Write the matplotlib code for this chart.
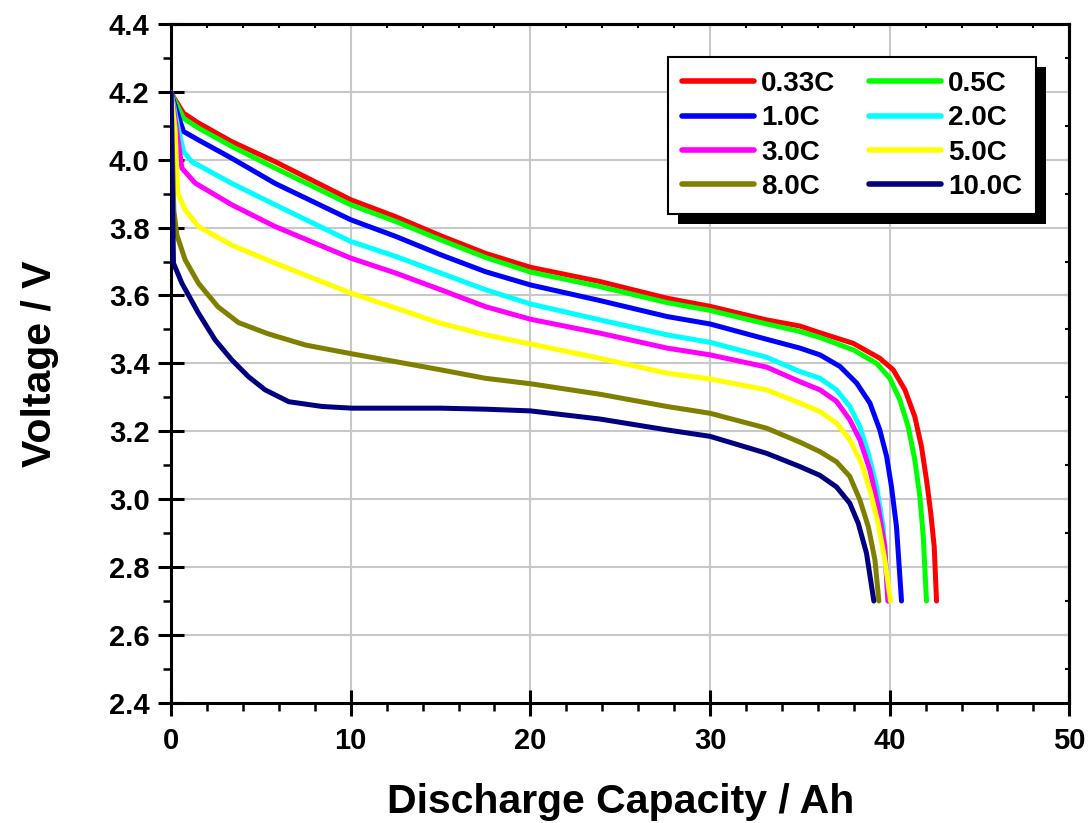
import matplotlib
matplotlib.use("Agg")
import matplotlib.pyplot as plt
from matplotlib.patches import Rectangle
from matplotlib.ticker import MultipleLocator, FormatStrFormatter

plt.rcParams["font.family"] = ["Liberation Sans", "DejaVu Sans"]
plt.rcParams["font.weight"] = "bold"

# discharge curves (capacity Ah, voltage V)
labels = ["0.33C", "0.5C", "1.0C", "2.0C", "3.0C", "5.0C", "8.0C", "10.0C"]
colors = ["#ff0000", "#00ff00", "#0000ff", "#00ffff",
          "#ff00ff", "#ffff00", "#808000", "#000080"]

q_033 = [0, 0.69, 1.52, 3.38, 5.79, 10, 12.5, 15, 17.5, 20, 23.87, 27.6, 30,
         33.15, 35, 36.12, 37.97, 39.45, 40.2, 40.85, 41.4, 41.77, 42.05,
         42.29, 42.48, 42.61]
v_033 = [4.196, 4.137, 4.108, 4.053, 3.994, 3.882, 3.832, 3.776, 3.724, 3.683,
         3.641, 3.592, 3.568, 3.528, 3.51, 3.49, 3.459, 3.415, 3.381, 3.322,
         3.243, 3.155, 3.057, 2.959, 2.86, 2.70]

q_05 = [0, 0.69, 1.52, 3.38, 5.79, 10, 12.5, 15, 17.5, 20, 23.87, 27.6, 30,
        33.15, 35, 36.12, 37.97, 39.27, 40.01, 40.57, 41.03, 41.4, 41.68,
        41.87, 42.05]
v_05 = [4.196, 4.122, 4.093, 4.039, 3.975, 3.867, 3.818, 3.764, 3.712, 3.669,
        3.626, 3.579, 3.556, 3.516, 3.494, 3.476, 3.44, 3.40, 3.356, 3.292,
        3.214, 3.116, 3.008, 2.89, 2.70]

q_1 = [0, 0.41, 0.69, 1.52, 3.38, 5.79, 10, 12.5, 15, 17.5, 20, 23.87, 27.6,
       30, 33.15, 35, 36.12, 37.23, 38.16, 38.9, 39.45, 39.83, 40.1, 40.38,
       40.66]
v_1 = [4.196, 4.127, 4.083, 4.058, 4.004, 3.93, 3.823, 3.774, 3.72, 3.67,
       3.631, 3.585, 3.538, 3.516, 3.471, 3.445, 3.425, 3.391, 3.342, 3.283,
       3.204, 3.126, 3.037, 2.919, 2.70]

q_2 = [0, 0.41, 0.69, 1.15, 3.38, 5.79, 10, 12.5, 15, 17.5, 20, 23.87, 27.6,
       30, 33.15, 35, 36.12, 37.04, 37.78, 38.34, 38.81, 39.27, 39.64, 39.92]
v_2 = [4.196, 4.088, 4.024, 3.994, 3.93, 3.867, 3.759, 3.715, 3.666, 3.617,
       3.575, 3.528, 3.484, 3.462, 3.418, 3.376, 3.356, 3.322, 3.273, 3.214,
       3.135, 3.037, 2.919, 2.70]

q_3 = [0, 0.3, 0.6, 1.34, 3.38, 5.79, 10, 12.5, 15, 17.5, 20, 23.87, 27.6, 30,
       33.15, 35, 36.12, 37.04, 37.78, 38.34, 38.9, 39.36, 39.73, 39.9]
v_3 = [4.196, 4.09, 3.975, 3.931, 3.867, 3.803, 3.71, 3.666, 3.617, 3.567,
       3.53, 3.489, 3.445, 3.425, 3.389, 3.346, 3.322, 3.288, 3.234, 3.175,
       3.086, 2.978, 2.86, 2.70]

q_5 = [0, 0.22, 0.37, 0.78, 1.52, 3.38, 5.79, 10, 12.5, 15, 17.5, 20, 23.87,
       27.6, 30, 33.15, 35, 36.12, 37.04, 37.78, 38.43, 38.9, 39.36, 39.73,
       40.05]
v_5 = [4.196, 4.088, 3.901, 3.852, 3.803, 3.748, 3.695, 3.607, 3.563, 3.518,
       3.484, 3.457, 3.415, 3.371, 3.354, 3.322, 3.283, 3.258, 3.224, 3.175,
       3.106, 3.027, 2.929, 2.821, 2.70]

q_8 = [0, 0.15, 0.32, 0.78, 1.52, 2.6, 3.75, 5.4, 7.48, 10.07, 12.5, 15, 17.5,
       20, 23.87, 27.6, 30, 33.15, 35, 36.12, 37.04, 37.78, 38.34, 38.81,
       39.18, 39.4]
v_8 = [4.196, 3.85, 3.778, 3.705, 3.636, 3.567, 3.52, 3.487, 3.454, 3.428,
       3.405, 3.381, 3.356, 3.34, 3.309, 3.273, 3.253, 3.209, 3.168, 3.14,
       3.11, 3.067, 2.998, 2.919, 2.821, 2.70]

q_10 = [0, 0.13, 0.6, 1.52, 2.45, 3.38, 4.3, 5.23, 6.55, 8.4, 10.07, 12.5, 15,
        17.5, 20, 23.87, 27.6, 30, 33.15, 35, 36.12, 37.04, 37.78, 38.25,
        38.71, 39.12]
v_10 = [4.196, 3.695, 3.636, 3.548, 3.469, 3.41, 3.361, 3.322, 3.287, 3.273,
        3.268, 3.268, 3.268, 3.265, 3.26, 3.236, 3.204, 3.185, 3.135, 3.096,
        3.07, 3.036, 2.988, 2.929, 2.841, 2.70]

curves = [(q_033, v_033), (q_05, v_05), (q_1, v_1), (q_2, v_2),
          (q_3, v_3), (q_5, v_5), (q_8, v_8), (q_10, v_10)]

fig = plt.figure(figsize=(10.9, 8.23), dpi=100)
ax = fig.add_axes([0.157, 0.146, 0.824, 0.825])

lines = []
for (q, v), lab, col in zip(curves, labels, colors):
    ln, = ax.plot(q, v, color=col, lw=3.6, label=lab, solid_capstyle="round",
                  solid_joinstyle="round", zorder=3)
    lines.append(ln)

ax.set_xlim(0, 50)
ax.set_ylim(2.4, 4.4)
ax.xaxis.set_major_locator(MultipleLocator(10))
ax.xaxis.set_minor_locator(MultipleLocator(2))
ax.yaxis.set_major_locator(MultipleLocator(0.2))
ax.yaxis.set_minor_locator(MultipleLocator(0.1))
ax.yaxis.set_major_formatter(FormatStrFormatter("%.1f"))

ax.grid(True, which="major", color="#c8c8c8", lw=1.5, zorder=0)
ax.set_axisbelow(True)

for s in ax.spines.values():
    s.set_linewidth(2.2)

ax.tick_params(which="major", direction="inout", length=19, width=2.2,
               labelsize=21)
ax.tick_params(axis="x", which="major", pad=8)
ax.tick_params(axis="y", which="major", pad=6)
ax.tick_params(which="minor", direction="out", length=5.5, width=1.8)

# small inward ticks on the top and right frame
top = ax.secondary_xaxis("top")
top.xaxis.set_major_locator(MultipleLocator(10))
top.xaxis.set_minor_locator(MultipleLocator(2))
top.tick_params(which="both", direction="in", length=3, width=1.5,
                labeltop=False)
right = ax.secondary_yaxis("right")
right.yaxis.set_major_locator(MultipleLocator(0.2))
right.yaxis.set_minor_locator(MultipleLocator(0.1))
right.tick_params(which="both", direction="in", length=3, width=1.5,
                  labelright=False)
for sec in (top, right):
    for s in sec.spines.values():
        s.set_linewidth(2.2)

ax.set_xlabel("Discharge Capacity / Ah", fontsize=29.5, fontweight="bold",
              labelpad=20)
ax.set_ylabel("Voltage / V", fontsize=29.5, fontweight="bold", labelpad=36)

# legend fills row by row in the reference
order = [0, 2, 4, 6, 1, 3, 5, 7]
leg = ax.legend([lines[i] for i in order], [labels[i] for i in order],
                ncol=2, loc="upper right", frameon=True,
                fancybox=False, edgecolor="black", framealpha=1,
                handlelength=2.6, handletextpad=0.25, labelspacing=0.3,
                columnspacing=1.2, borderaxespad=1.2, borderpad=0.5,
                prop={"weight": "bold", "size": 20})
leg.get_frame().set_linewidth(1.5)
leg.set_zorder(6)
for h in leg.get_lines():
    h.set_linewidth(4)

# black drop shadow behind legend box
fig.canvas.draw()
inv = ax.transAxes.inverted()
bb = leg.get_window_extent().transformed(inv)
off = inv.transform((10, -10)) - inv.transform((0, 0))
ax.add_patch(Rectangle((bb.x0 + off[0], bb.y0 + off[1]), bb.width, bb.height,
                       transform=ax.transAxes, facecolor="black",
                       edgecolor="none", zorder=5))

fig.savefig("out.png", dpi=100)
